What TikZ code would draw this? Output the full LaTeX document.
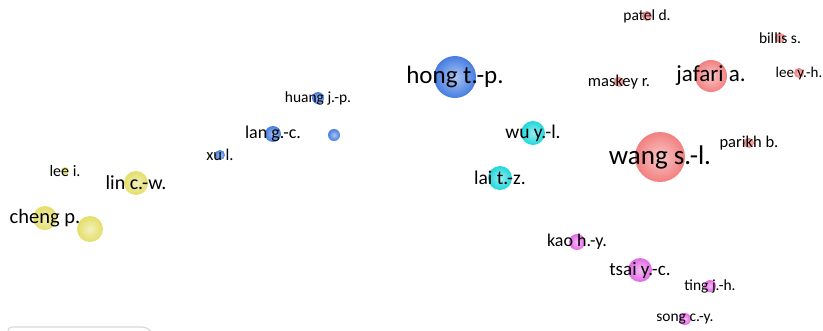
\documentclass[tikz,border=0pt]{standalone}
\usepackage{fontspec}
\setmainfont{Carlito}
\usetikzlibrary{positioning}
\definecolor{vosblue}{RGB}{70,125,225}
\definecolor{vosred}{RGB}{242,128,128}
\definecolor{voscyan}{RGB}{30,215,220}
\definecolor{vosyellow}{RGB}{228,222,105}
\definecolor{vosmagenta}{RGB}{228,105,228}
\tikzset{
  bubble/.style={circle,inner sep=0pt,minimum size=#1},
  blueb/.style={bubble=#1,inner color=vosblue!45,outer color=vosblue},
  redb/.style={bubble=#1,inner color=vosred!45,outer color=vosred},
  cyanb/.style={bubble=#1,inner color=voscyan!45,outer color=voscyan},
  yellowb/.style={bubble=#1,inner color=vosyellow!45,outer color=vosyellow},
  magentab/.style={bubble=#1,inner color=vosmagenta!45,outer color=vosmagenta},
  lbl/.style={inner sep=0pt,text=black,font=\fontsize{#1}{#1}\selectfont}
}
\begin{document}
\begin{tikzpicture}[x=1pt,y=-1pt]
\useasboundingbox (0,0) rectangle (823,330);
% scroll bar edge
\draw[black!15,line width=1.2pt,rounded corners=4pt] (8,332) -- (8,327) -- (146,327) -- (152,332);

% blue cluster
\node [blueb=42pt] (hong) at (455,77) {};
\node [blueb=12pt] (huang) at (318,98) {};
\node [blueb=16pt] (lan) at (273,134) {};
\node [blueb=12pt] (bluex) at (334,135) {};
\node [blueb=10pt] (xu) at (220,155) {};
% red cluster
\node [redb=50pt] (wang) at (660,157) {};
\node [redb=32pt] (jafari) at (711,76) {};
\node [redb=10pt] (patel) at (647,16) {};
\node [redb=10pt] (billis) at (780,38) {};
\node [redb=10pt] (leeyh) at (799,73) {};
\node [redb=10pt] (maskey) at (619,82) {};
\node [redb=10pt] (parikh) at (749,143) {};
% cyan cluster
\node [cyanb=24pt] (wu) at (533,133) {};
\node [cyanb=24pt] (lai) at (500,178) {};
% yellow cluster
\node [yellowb=8pt] (leei) at (65,171) {};
\node [yellowb=24pt] (lin) at (136,183) {};
\node [yellowb=24pt] (cheng) at (45,218) {};
\node [yellowb=26pt] (yellowx) at (90,229) {};
% magenta cluster
\node [magentab=16pt] (kao) at (577,242) {};
\node [magentab=24pt] (tsai) at (640,270) {};
\node [magentab=12pt] (ting) at (710,286) {};
\node [magentab=12pt] (song) at (685,319) {};

% labels
\node [lbl=25] (hong-l) at (hong) {hong t.-p.};
\node [lbl=15.5] (huang-l) at (huang) {huang j.-p.};
\node [lbl=18] (lan-l) at (lan) {lan g.-c.};
\node [lbl=16.5] (xu-l) at (xu) {xu l.};
\node [lbl=27] (wang-l) at (wang) {wang s.-l.};
\node [lbl=23] (jafari-l) at (jafari) {jafari a.};
\node [lbl=15.5] (patel-l) at (patel) {patel d.};
\node [lbl=15.5] (billis-l) at (billis) {billis s.};
\node [lbl=15] (leeyh-l) at (leeyh) {lee y.-h.};
\node [lbl=16.5] (maskey-l) at (maskey) {maskey r.};
\node [lbl=16.5] (parikh-l) at (parikh) {parikh b.};
\node [lbl=19.5] (wu-l) at (wu) {wu y.-l.};
\node [lbl=19.5] (lai-l) at (lai) {lai t.-z.};
\node [lbl=16] (leei-l) at (leei) {lee i.};
\node [lbl=20] (lin-l) at (lin) {lin c.-w.};
\node [lbl=20.5] (cheng-l) at (cheng) {cheng p.};
\node [lbl=18] (kao-l) at (kao) {kao h.-y.};
\node [lbl=19] (tsai-l) at (tsai) {tsai y.-c.};
\node [lbl=15.5] (ting-l) at (ting) {ting j.-h.};
\node [lbl=15.5] (song-l) at (song) {song c.-y.};
\end{tikzpicture}
\end{document}
